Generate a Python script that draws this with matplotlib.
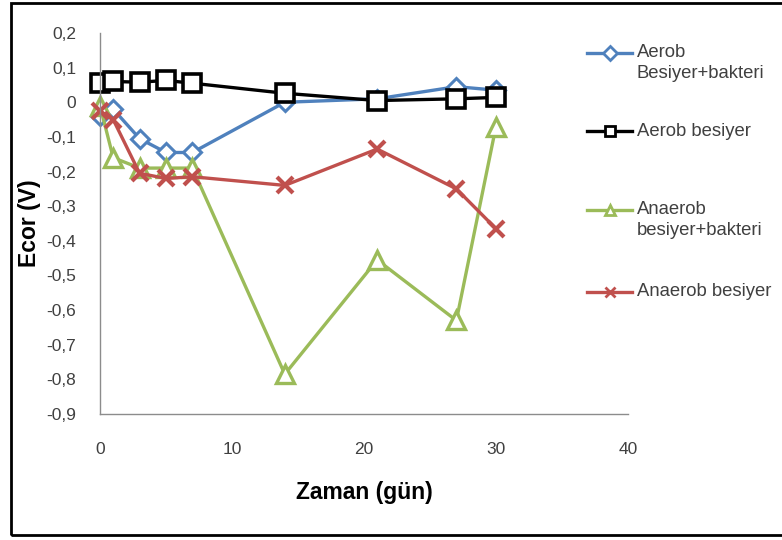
import matplotlib.pyplot as plt
from matplotlib.lines import Line2D
from matplotlib.patches import Rectangle

plt.rcParams['font.family'] = ['Liberation Sans', 'DejaVu Sans']
plt.rcParams['axes.unicode_minus'] = False

# sampling days
days = [0, 1, 3, 5, 7, 14, 21, 27, 30]

# corrosion potential (V)
aerob_bakteri = [-0.04, -0.02, -0.105, -0.145, -0.145, 0.0, 0.01, 0.045, 0.035]
aerob = [0.055, 0.06, 0.058, 0.063, 0.055, 0.026, 0.005, 0.01, 0.014]
anaerob_bakteri = [-0.01, -0.16, -0.19, -0.19, -0.19, -0.785, -0.455, -0.63, -0.07]
anaerob = [-0.025, -0.05, -0.205, -0.22, -0.215, -0.24, -0.135, -0.25, -0.365]

labels = ['Aerob\nBesiyer+bakteri', 'Aerob besiyer',
          'Anaerob\nbesiyer+bakteri', 'Anaerob besiyer']

blue = '#4F81BD'
green = '#9BBB59'
red = '#C0504D'

my_dpi = 100
fig = plt.figure(figsize=(782/my_dpi, 540/my_dpi), dpi=my_dpi)
ax = fig.add_axes([0.1279, 0.2333, 0.803 - 0.1279, 0.9389 - 0.2333])

styles = [
    dict(color=blue, marker='D', ms=9, mew=2.2, mfc='white', mec=blue),
    dict(color='black', marker='s', ms=13, mew=2.6, mfc='white', mec='black'),
    dict(color=green, marker='^', ms=13, mew=2.4, mfc='white', mec=green),
    dict(color=red, marker='x', ms=12, mew=3, mec=red),
]
series = [aerob_bakteri, aerob, anaerob_bakteri, anaerob]
for vals, st in zip(series, styles):
    ax.plot(days, vals, lw=2.4, clip_on=False, **st)

ax.set_xlim(0, 40)
ax.set_ylim(-0.9, 0.2)
ax.set_xticks([0, 10, 20, 30, 40])
ax.set_yticks([0.2, 0.1, 0, -0.1, -0.2, -0.3, -0.4, -0.5, -0.6, -0.7, -0.8, -0.9])
ax.set_yticklabels([('%g' % v).replace('.', ',') for v in ax.get_yticks()])
ax.tick_params(axis='both', length=0, labelsize=12.5, colors='#404040')
ax.tick_params(axis='x', pad=20)
ax.tick_params(axis='y', pad=17)
for s in ['top', 'right']:
    ax.spines[s].set_visible(False)
for s in ['left', 'bottom']:
    ax.spines[s].set_color('#8c8c8c')
    ax.spines[s].set_linewidth(1.0)

ax.set_xlabel('Zaman (gün)', fontsize=16.5, fontweight='bold')
ax.set_ylabel('Ecor (V)', fontsize=16.5, fontweight='bold')
ax.xaxis.set_label_coords(0.5, -0.176)
ax.yaxis.set_label_coords(-0.112, 0.5)

# legend drawn by hand so the handle sits on the first text line
leg_y = [0.902, 0.757, 0.611, 0.459]
for lab, st, y in zip(labels, styles, leg_y):
    small = dict(st)
    small['ms'] = 7
    small['mew'] = 2
    fig.add_artist(Line2D([0.751, 0.7795, 0.808], [y, y, y], lw=2.4, markevery=[1],
                          transform=fig.transFigure, **small))
    fig.text(0.814, y + 0.016, lab, fontsize=13.3, color='#404040', va='top',
             linespacing=1.25)

# outer frame
fig.add_artist(Rectangle((0.014, 0.009), 1.0, 0.985, transform=fig.transFigure,
                         fill=False, lw=2, ec='black'))

plt.savefig('out.png', dpi=my_dpi)
